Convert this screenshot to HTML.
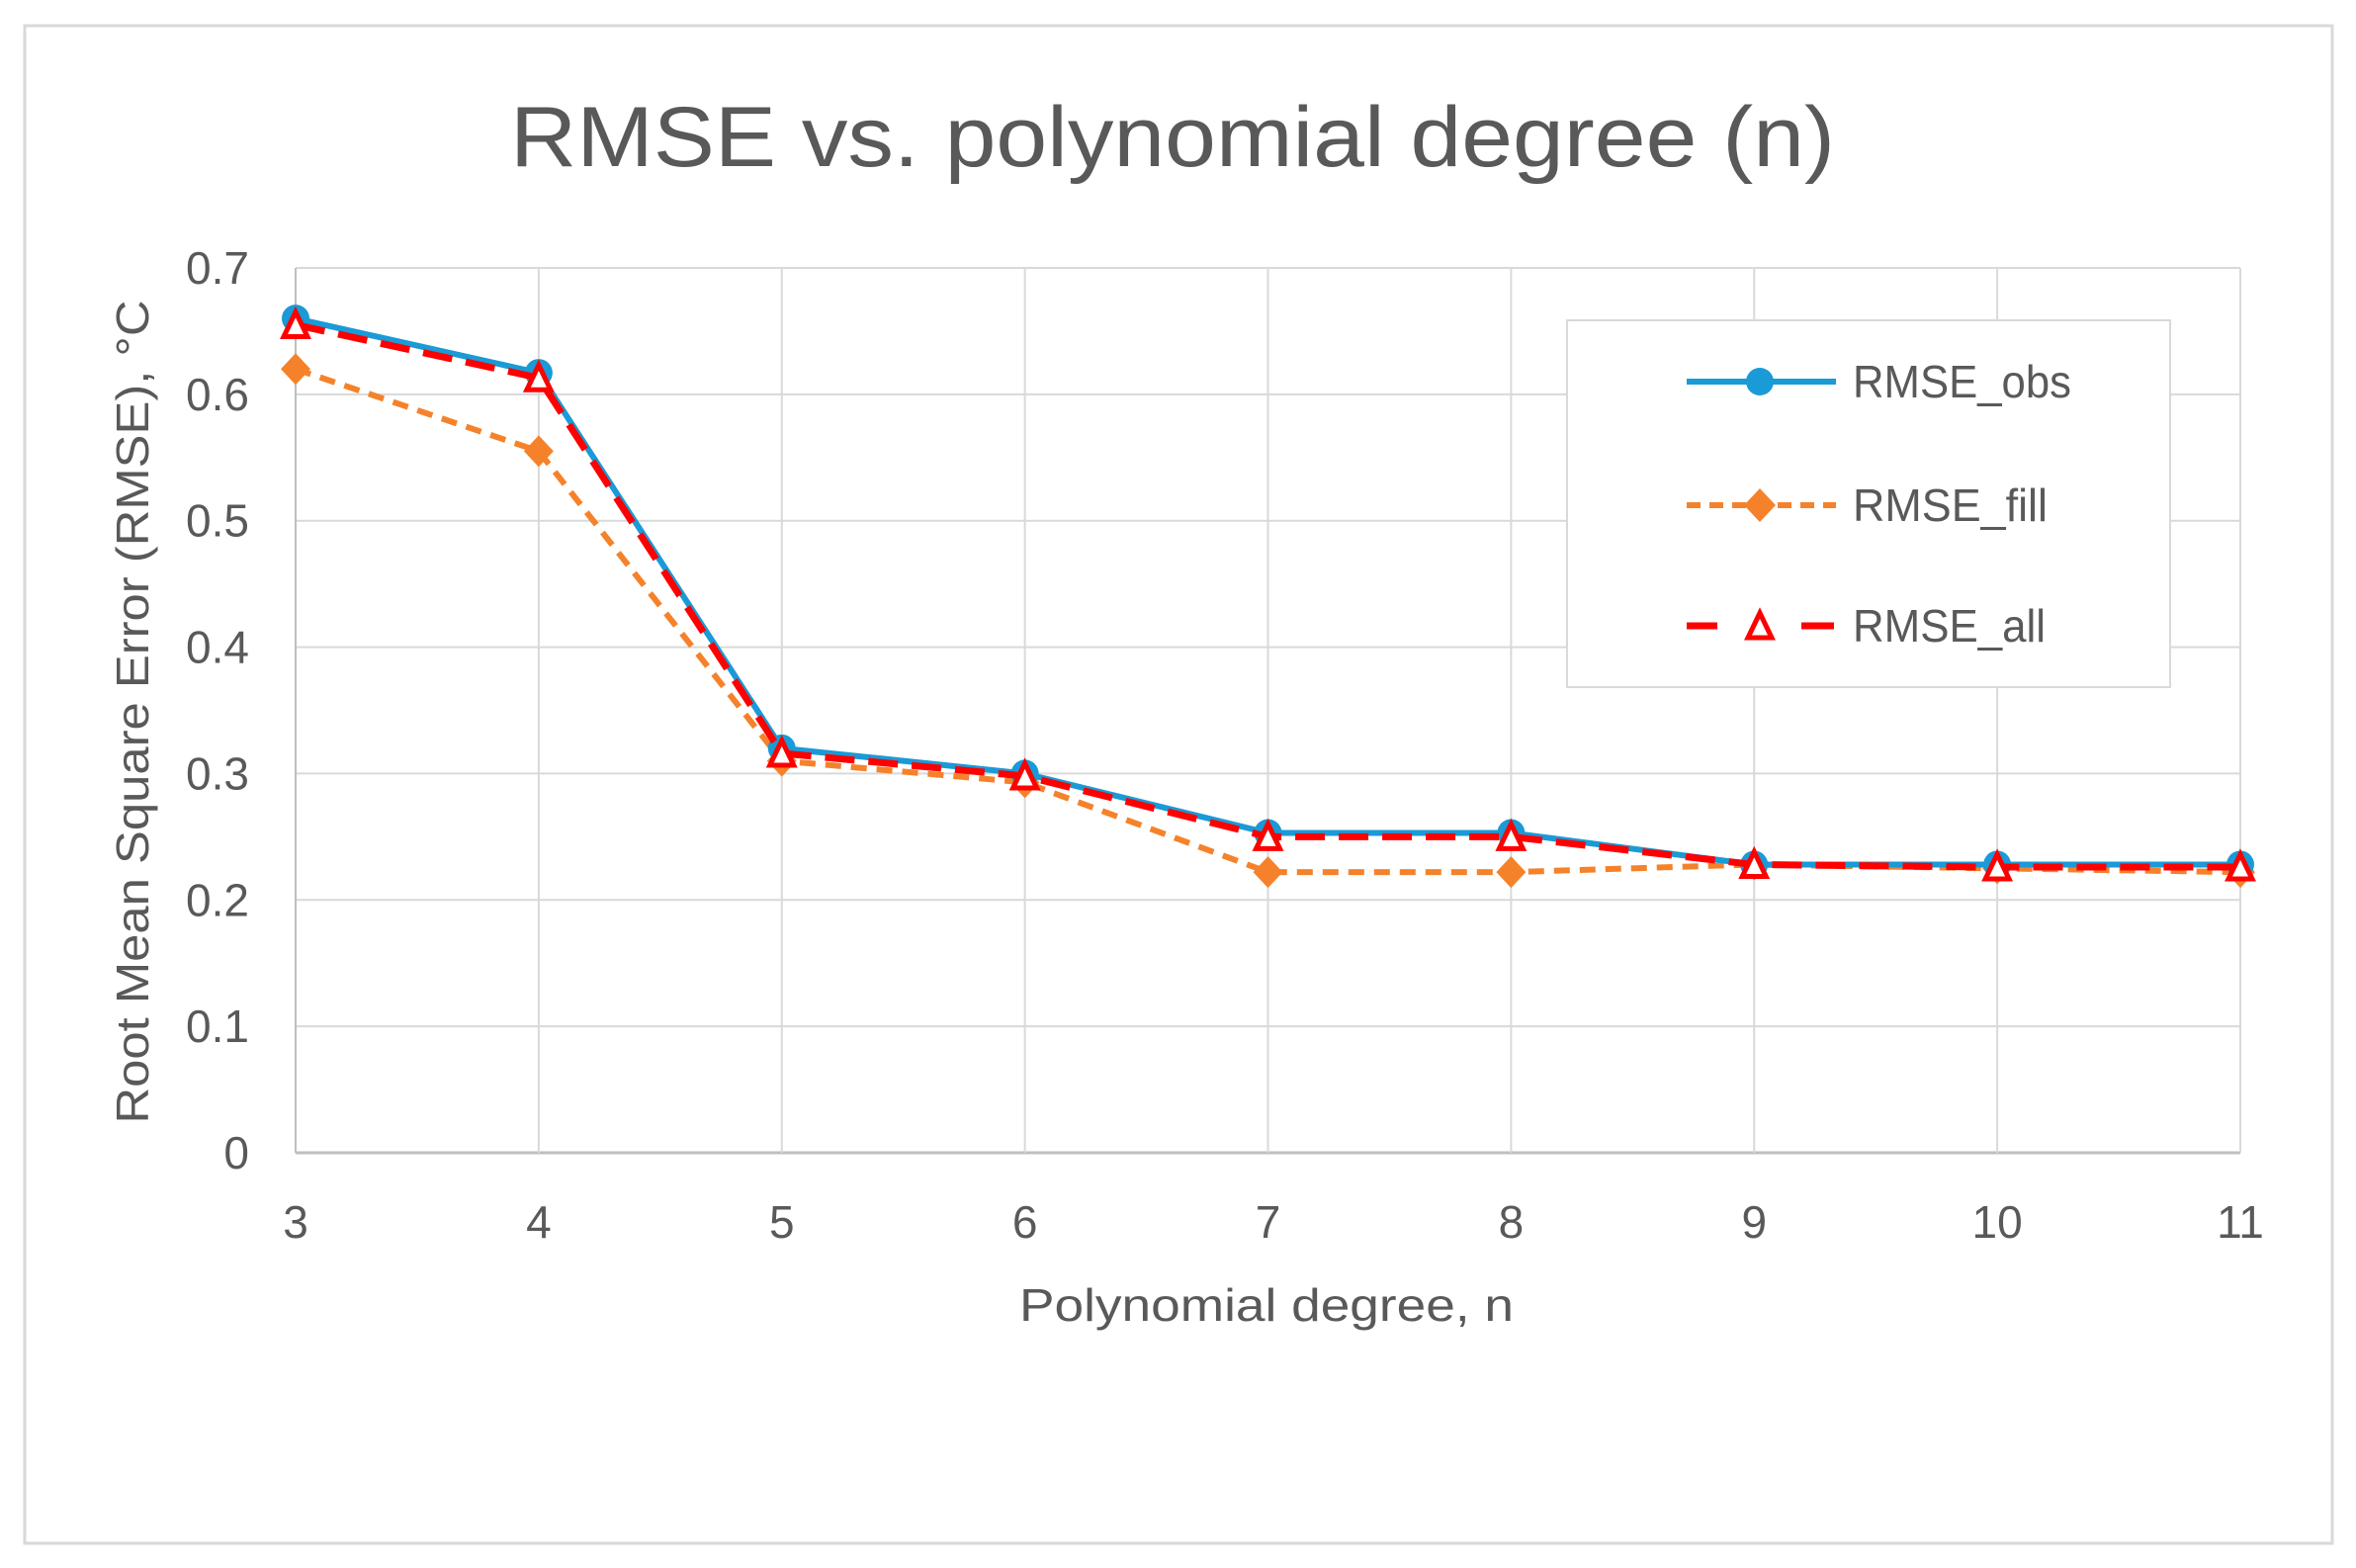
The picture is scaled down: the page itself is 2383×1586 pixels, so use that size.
<!DOCTYPE html>
<html><head><meta charset="utf-8"><style>
html,body{margin:0;padding:0;background:#fff;}
svg{display:block;font-family:"Liberation Sans",sans-serif;}
</style></head><body>
<svg id="chart" width="2383" height="1586" viewBox="0 0 2383 1586">
<rect x="25" y="26" width="2334" height="1535" fill="#fff" stroke="#d9d9d9" stroke-width="3"/>
<text x="1186" y="168" text-anchor="middle" font-size="86" fill="#595959" textLength="1340" lengthAdjust="spacingAndGlyphs">RMSE vs. polynomial degree (n)</text>
<g id="grid"></g>
<g id="axes"></g>
<g id="series"></g>
<text transform="translate(150,720) rotate(-90)" text-anchor="middle" font-size="46" fill="#595959" textLength="833" lengthAdjust="spacingAndGlyphs">Root Mean Square Error (RMSE), °C</text>
<text x="1281" y="1336" text-anchor="middle" font-size="46" fill="#595959" textLength="500" lengthAdjust="spacingAndGlyphs">Polynomial degree, n</text>
<g>
<rect x="1585" y="324" width="610" height="371" fill="#fff" stroke="#d9d9d9" stroke-width="2"/>
<g>
<line x1="1706" y1="386" x2="1857" y2="386" stroke="#1a9ad6" stroke-width="6"/>
<circle cx="1780" cy="386" r="14" fill="#1a9ad6"/>
<text x="1874" y="402" font-size="46" fill="#595959" textLength="221" lengthAdjust="spacingAndGlyphs">RMSE_obs</text>
</g>
<g>
<line x1="1706" y1="511" x2="1857" y2="511" stroke="#f5822a" stroke-width="6" stroke-dasharray="14,9"/>
<polygon points="1780,494 1796,511 1780,528 1764,511" fill="#f5822a"/>
<text x="1874" y="527" font-size="46" fill="#595959" textLength="197" lengthAdjust="spacingAndGlyphs">RMSE_fill</text>
</g>
<g>
<line x1="1706" y1="633" x2="1737" y2="633" stroke="#ff0000" stroke-width="7"/>
<line x1="1822" y1="633" x2="1855" y2="633" stroke="#ff0000" stroke-width="7"/>
<polygon points="1780,620 1792,645 1768,645" fill="#fff" stroke="#ff0000" stroke-width="5"/>
<text x="1874" y="649" font-size="46" fill="#595959" textLength="195" lengthAdjust="spacingAndGlyphs">RMSE_all</text>
</g>
</g>
</svg>
<script>
const categories = [3,4,5,6,7,8,9,10,11];
const rmseObs = [0.660,0.617,0.320,0.300,0.253,0.253,0.228,0.228,0.228];
const rmseFill = [0.620,0.555,0.310,0.293,0.222,0.222,0.228,0.225,0.222];
const rmseAll = [0.655,0.613,0.316,0.298,0.250,0.250,0.228,0.226,0.226];
const yTicks = [0,0.1,0.2,0.3,0.4,0.5,0.6,0.7];
const yTickLabels = ["0","0.1","0.2","0.3","0.4","0.5","0.6","0.7"];

const NS="http://www.w3.org/2000/svg";
const X0=299, X1=2266, Y0=1166, Y1=271, YMAX=0.7;
function xs(i){return X0+(X1-X0)*i/(categories.length-1);}
function ys(v){return Y0-(Y0-Y1)*v/YMAX;}
function mk(tag,attrs,parent){const e=document.createElementNS(NS,tag);for(const k in attrs)e.setAttribute(k,attrs[k]);parent.appendChild(e);return e;}
const grid=document.getElementById('grid'), axes=document.getElementById('axes'), ser=document.getElementById('series');
yTicks.forEach((t,i)=>{
  const l=mk('line',{x1:X0,x2:X1,y1:ys(t),y2:ys(t),stroke:t===0?'#bfbfbf':'#d9d9d9','stroke-width':t===0?3:2},grid);
  
  
  const tx=mk('text',{x:252,y:ys(t)+16,'text-anchor':'end','font-size':46,fill:'#595959'},axes);
  tx.textContent=yTickLabels[i];
  
  
});
categories.forEach((c,i)=>{
  const l=mk('line',{x1:xs(i),x2:xs(i),y1:Y1,y2:Y0,stroke:i===0?'#bfbfbf':'#d9d9d9','stroke-width':2},grid);
  
  
  const tx=mk('text',{x:xs(i),y:1252,'text-anchor':'middle','font-size':46,fill:'#595959'},axes);
  tx.textContent=String(c);
  
  
});
function pts(arr){return arr.map((v,i)=>xs(i)+','+ys(v)).join(' ');}
const pf=mk('polyline',{points:pts(rmseFill),fill:'none',stroke:'#f5822a','stroke-width':6,'stroke-dasharray':'16,10'},ser);


rmseFill.forEach((v,i)=>{const x=xs(i),y=ys(v);
  const m=mk('polygon',{points:`${x},${y-16} ${x+15},${y} ${x},${y+16} ${x-15},${y}`,fill:'#f5822a'},ser);
  
  });
const po=mk('polyline',{points:pts(rmseObs),fill:'none',stroke:'#1a9ad6','stroke-width':6},ser);


rmseObs.forEach((v,i)=>{
  const m=mk('circle',{cx:xs(i),cy:ys(v),r:14,fill:'#1a9ad6'},ser);
  
  });
const pa=mk('polyline',{points:pts(rmseAll),fill:'none',stroke:'#ff0000','stroke-width':7,'stroke-dasharray':'30,14'},ser);


rmseAll.forEach((v,i)=>{const x=xs(i),y=ys(v);
  const m=mk('polygon',{points:`${x},${y-13} ${x+12},${y+12} ${x-12},${y+12}`,fill:'#fff',stroke:'#ff0000','stroke-width':5},ser);
  
  });
</script>
</body></html>
